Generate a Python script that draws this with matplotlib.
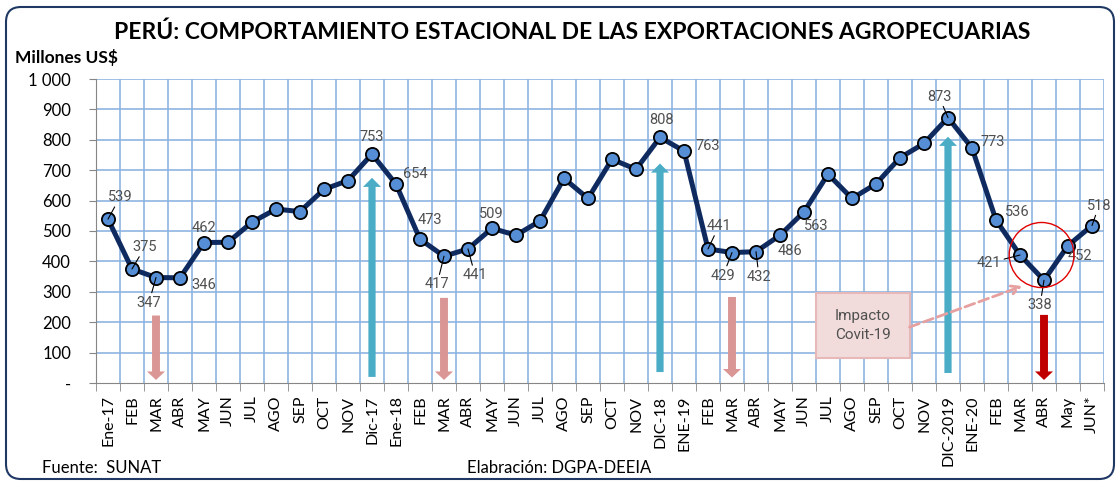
import matplotlib.pyplot as plt
from matplotlib.patches import FancyBboxPatch, Ellipse, Rectangle

meses = ['Ene-17', 'FEB', 'MAR', 'ABR', 'MAY', 'JUN', 'JUL', 'AGO', 'SEP', 'OCT', 'NOV', 'Dic-17',
         'Ene-18', 'FEB', 'MAR', 'ABR', 'MAY', 'JUN', 'JUL', 'AGO', 'SEP', 'OCT', 'NOV', 'DIC-18',
         'ENE-19', 'FEB', 'MAR', 'ABR', 'MAY', 'JUN', 'JUL', 'AGO', 'SEP', 'OCT', 'NOV', 'DIC-2019',
         'ENE-20', 'FEB', 'MAR', 'ABR', 'May', 'JUN*']
export = [539, 375, 347, 346, 462, 463, 529, 572, 564, 637, 666, 753,
          654, 473, 417, 441, 509, 486, 533, 673, 607, 736, 703, 808,
          763, 441, 429, 432, 486, 563, 687, 607, 655, 741, 788, 873,
          773, 536, 421, 338, 452, 518]

# flechas estacionales: (indice, desde, hasta)
bajas = [(2, 222, 10), (14, 280, 10), (26, 283, 18)]
alzas = [(11, 20, 675), (23, 36, 722), (35, 33, 810)]
caida_covid = (39, 224, 10)

# posicion de etiquetas (offset en px) y si llevan linea guia
etiquetas = {0: (12, 22, True), 1: (13, 22, True), 2: (-7, -25, True), 3: (24, -7, False),
             4: (0, 15, False), 11: (0, 17, False), 12: (19, 10, False), 13: (10, 19, False),
             14: (-7, -28, True), 15: (7, -26, True), 16: (-1, 14, False), 23: (1, 17, False),
             24: (24, 5, False), 25: (11, 23, True), 26: (-9, -23, True), 27: (3, -25, True),
             28: (10, -16, False), 29: (12, -14, False), 35: (-9, 21, True), 36: (21, 6, False),
             37: (21, 8, False), 38: (-31, -8, True), 39: (-4, -25, True), 40: (12, -10, False),
             41: (7, 20, True)}

plt.rcParams['font.family'] = ['Lato', 'DejaVu Sans']
fig = plt.figure(figsize=(11.2, 4.82), dpi=100)
ax = fig.add_axes([96 / 1120, 1 - 383 / 482, 1008 / 1120, 304 / 482])

x = list(range(len(export)))
ax.set_xlim(-0.5, len(export) - 0.5)
ax.set_ylim(0, 1000)

# grilla
for v in range(100, 1001, 100):
    ax.axhline(v, color='#8DB4E2', lw=1.2, zorder=0)
for b in range(len(export) + 1):
    ax.axvline(b - 0.5, color='#8DB4E2', lw=1.2, zorder=0)

for i, y0, y1 in bajas:
    ax.arrow(i, y0, 0, y1 - y0, width=0.33, head_width=0.75, head_length=28,
             length_includes_head=True, color='#D99694', lw=0, zorder=2)
for i, y0, y1 in alzas:
    ax.arrow(i, y0, 0, y1 - y0, width=0.3, head_width=0.75, head_length=30,
             length_includes_head=True, color='#4BACC6', lw=0, zorder=2)
i, y0, y1 = caida_covid
ax.arrow(i, y0, 0, y1 - y0, width=0.33, head_width=0.75, head_length=28,
         length_includes_head=True, color='#C00000', lw=0, zorder=2)

ax.plot(x, export, color='#0F2A5F', lw=3.6, marker='o', ms=9.5, mfc='#558ED5',
        mec='black', mew=1.3, zorder=4)

narrow = ['Roboto', 'DejaVu Sans']
for i, (dx, dy, guia) in etiquetas.items():
    ap = dict(arrowstyle='-', color='black', lw=0.8, shrinkA=0, shrinkB=0) if guia else None
    ax.annotate(str(export[i]), (i, export[i]), xytext=(dx, dy), textcoords='offset pixels',
                ha='center', va='center', fontsize=10.5, color='#505050',
                family=narrow, arrowprops=ap, zorder=5)

# caja Covid
ax.add_patch(Rectangle((29.5, 82), 3.9, 214, facecolor='#F2DCDB', edgecolor='#E6B9B8', lw=1.5, zorder=3))
ax.text(31.45, 189, 'Impacto\nCovit-19', ha='center', va='center', fontsize=11, color='#505050',
        family=narrow, linespacing=1.5, zorder=6)
ax.annotate('', xy=(38.1, 319), xytext=(33.4, 184),
            arrowprops=dict(arrowstyle='->', linestyle='--', color='#E6A0A0', lw=2,
                            mutation_scale=15, shrinkA=0, shrinkB=0), zorder=3)
ax.add_patch(Ellipse((38.9, 421), 2.7, 214, facecolor='none', edgecolor='#E00000', lw=1, zorder=6))

# ejes
ax.set_xticks(x)
ax.set_xticklabels(meses, rotation=90, fontsize=11.5)
ax.set_xticks([b - 0.5 for b in range(len(export) + 1)], minor=True)
ax.tick_params(axis='x', which='major', length=0, pad=9)
ax.tick_params(axis='x', which='minor', length=6, color='#868686')
ax.set_yticks(range(0, 1001, 100))
ax.set_yticklabels(['-'] + [str(v) for v in range(100, 1000, 100)] + ['1 000'], fontsize=12)
ax.tick_params(axis='y', length=5, color='#868686', pad=13)
for s in ['top', 'right']:
    ax.spines[s].set_visible(False)
ax.spines['left'].set_color('#868686')
ax.spines['bottom'].set_color('#868686')

fig.text(0.511, 0.934, 'PERÚ: COMPORTAMIENTO ESTACIONAL DE LAS EXPORTACIONES AGROPECUARIAS',
         ha='center', va='center', fontsize=16.5, fontweight='bold')
fig.text(15 / 1120, 1 - 58 / 482, 'Millones US$', ha='left', va='center', fontsize=12.5, fontweight='bold')
fig.text(42 / 1120, 1 - 468 / 482, 'Fuente:  SUNAT', ha='left', va='center', fontsize=12)
fig.text(467 / 1120, 1 - 468 / 482, 'Elabración: DGPA-DEEIA', ha='left', va='center', fontsize=12)

fig.patches.append(FancyBboxPatch((0.06, 0.03), 11.08, 4.72, boxstyle='round,pad=0,rounding_size=0.15',
                                  transform=fig.dpi_scale_trans, facecolor='none', edgecolor='#1F3864',
                                  lw=1.5, figure=fig))

fig.savefig('out.png', dpi=100)
